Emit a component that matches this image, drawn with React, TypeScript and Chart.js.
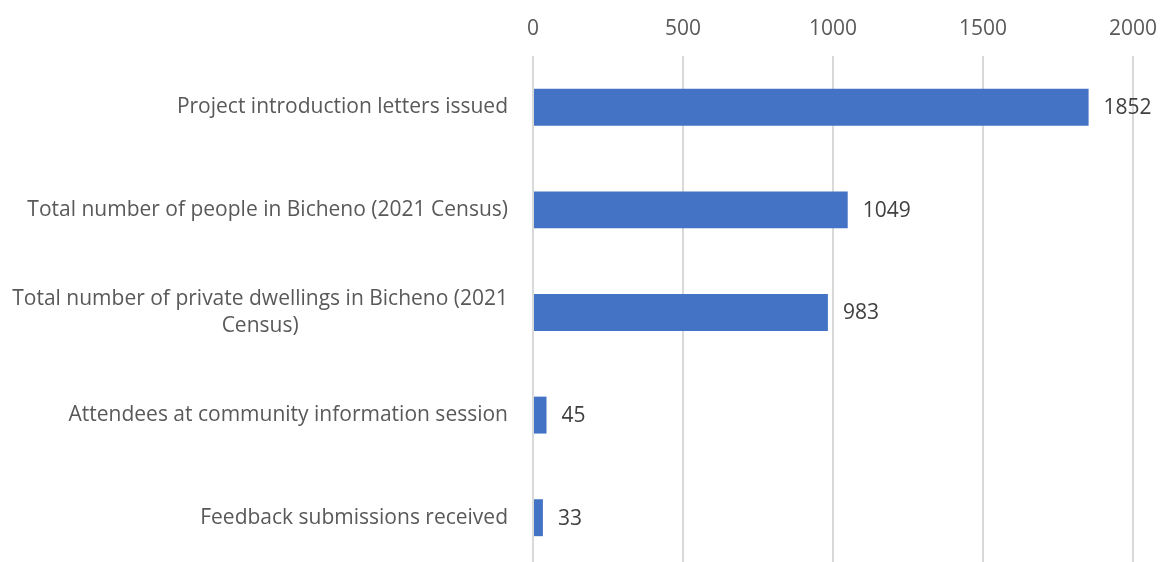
import React, { useEffect, useRef } from "react";
import { Chart, registerables } from "chart.js";

Chart.register(...registerables);

const categories: (string | string[])[] = [
  "Project introduction letters issued",
  "Total number of people in Bicheno (2021 Census)",
  ["Total number of private dwellings in Bicheno (2021", "Census)"],
  "Attendees at community information session",
  "Feedback submissions received",
];
const values: number[] = [1852, 1049, 983, 45, 33];
const xTickValues: number[] = [0, 500, 1000, 1500, 2000];

const FONT = '"Open Sans", "Noto Sans", sans-serif';
const FONT_SIZE = 21;

const labelPlugin = {
  id: "customLabels",
  afterDatasetsDraw(chart: any) {
    const ctx = chart.ctx;
    const yScale = chart.scales.y;
    const area = chart.chartArea;
    ctx.save();
    ctx.font = `${FONT_SIZE}px ${FONT}`;
    ctx.textBaseline = "middle";
    // category labels
    ctx.fillStyle = "#595959";
    const lineH = 27;
    const right = area.left - 25;
    categories.forEach((c, i) => {
      const lines = Array.isArray(c) ? c : [c];
      const maxW = Math.max(...lines.map((l) => ctx.measureText(l).width));
      const cy = yScale.getPixelForValue(i);
      lines.forEach((l, j) => {
        const y = cy + (j - (lines.length - 1) / 2) * lineH;
        if (lines.length > 1) {
          ctx.textAlign = "center";
          ctx.fillText(l, right - maxW / 2, y);
        } else {
          ctx.textAlign = "right";
          ctx.fillText(l, right, y);
        }
      });
    });
    // data labels
    ctx.fillStyle = "#404040";
    ctx.textAlign = "left";
    const meta = chart.getDatasetMeta(0);
    meta.data.forEach((el: any, i: number) => {
      ctx.fillText(String(values[i]), el.x + 15, el.y + 1);
    });
    ctx.restore();
  },
};

export default function App() {
  const ref = useRef<HTMLCanvasElement | null>(null);
  useEffect(() => {
    if (!ref.current) return;
    const chart = new Chart(ref.current, {
      type: "bar",
      data: {
        labels: categories,
        datasets: [
          {
            data: values,
            backgroundColor: "#4472C4",
            borderWidth: 0,
            barPercentage: 0.36,
            categoryPercentage: 1,
          },
        ],
      },
      options: {
        indexAxis: "y",
        responsive: false,
        animation: false,
        layout: { padding: { left: 0, right: 36, top: 0, bottom: 0 } },
        plugins: {
          legend: { display: false },
          tooltip: { enabled: false },
        },
        scales: {
          x: {
            type: "linear",
            position: "top",
            min: 0,
            max: 2000,
            afterBuildTicks: (s: any) => {
              s.ticks = xTickValues.map((v) => ({ value: v }));
            },
            afterFit: (s: any) => {
              s.height = 56;
              s.paddingLeft = 0;
              s.paddingRight = 0;
            },
            ticks: {
              color: "#595959",
              font: { family: FONT, size: FONT_SIZE },
              padding: 14,
              callback: (v: any) => String(v),
            },
            grid: {
              color: "#d9d9d9",
              lineWidth: 2,
              drawTicks: false,
            },
            border: { display: false },
          },
          y: {
            type: "category",
            ticks: { display: false },
            grid: { display: false },
            border: { display: false },
            afterFit: (s: any) => {
              s.width = 533;
            },
          },
        },
      },
      plugins: [labelPlugin],
    });
    return () => chart.destroy();
  }, []);
  return (
    <div
      style={{
        position: "absolute",
        left: 0,
        top: 0,
        width: 1169,
        height: 562,
        overflow: "hidden",
        background: "#ffffff",
      }}
    >
      <canvas ref={ref} width={1169} height={569} style={{ display: "block" }} />
    </div>
  );
}
